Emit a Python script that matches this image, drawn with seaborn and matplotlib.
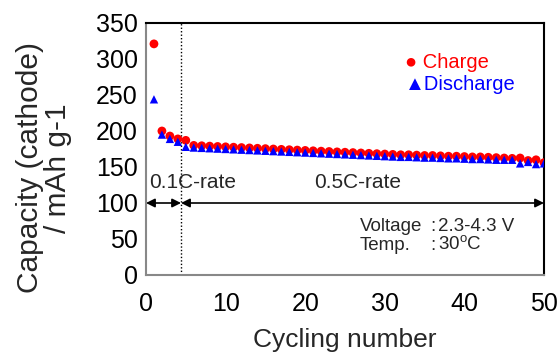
import matplotlib
matplotlib.use("Agg")
import matplotlib.pyplot as plt
import seaborn as sns
import pandas as pd
from matplotlib.ticker import MultipleLocator

cycles = list(range(1, 51))
charge = [321, 200, 193, 189, 187, 180, 179.5, 179, 178.5, 178,
          177.5, 177, 176.5, 176, 175.5, 175, 174.5, 174, 173.5, 173,
          172.5, 172, 171.5, 171, 170.5, 170, 169.5, 169, 168.5, 168,
          167.5, 167, 167, 166.5, 166, 166, 165.5, 165, 165, 164.5,
          164, 164, 163.5, 163, 162.5, 162, 162.5, 159, 160, 156]
discharge = [244, 195, 189, 185, 178, 177, 176.5, 176, 175.5, 175,
             174.5, 174, 173.5, 173, 172.5, 172, 171.5, 171, 170.5, 170,
             169.5, 169, 168.5, 168, 167.5, 167, 166.5, 166, 165.5, 165,
             164.5, 164, 164, 163.5, 163, 163, 162.5, 162, 162, 161.5,
             161, 161, 160.5, 160, 160, 160, 155, 157, 154, 155]

sns.set_theme(style="white")
plt.rcParams['font.family'] = ['Liberation Sans', 'DejaVu Sans']
plt.rcParams['mathtext.fontset'] = 'custom'
plt.rcParams['mathtext.rm'] = 'Liberation Sans'

df = pd.DataFrame({"cycle": cycles, "Charge": charge, "Discharge": discharge})

fig = plt.figure(figsize=(5.6, 3.52), dpi=100)
ax = fig.add_axes([146/560, 1-275/352, 398/560, 252/352])

sns.scatterplot(data=df, x="cycle", y="Charge", ax=ax, color="#ff0000", marker="o",
                s=40, edgecolor="none", zorder=3, legend=False)
sns.scatterplot(data=df, x="cycle", y="Discharge", ax=ax, color="#0000ff", marker="^",
                s=36, edgecolor="none", zorder=4, legend=False)

ax.set_xlim(0, 50)
ax.set_ylim(0, 350)
ax.xaxis.set_major_locator(MultipleLocator(10))
ax.xaxis.set_minor_locator(MultipleLocator(2))
ax.yaxis.set_major_locator(MultipleLocator(50))
ax.yaxis.set_minor_locator(MultipleLocator(10))
ax.tick_params(axis='both', which='both', direction='in', colors='#888888',
               labelcolor='black', labelsize=18, width=1)
ax.tick_params(which='major', length=5)
ax.tick_params(which='minor', length=4)
ax.tick_params(axis='x', pad=12)
ax.tick_params(axis='y', pad=6)

for s in ['left', 'bottom']:
    ax.spines[s].set_color('#888888')
    ax.spines[s].set_linewidth(1.5)
for s in ['top', 'right']:
    ax.spines[s].set_color('black')
    ax.spines[s].set_linewidth(1.5)

ax.set_xlabel("Cycling number", fontsize=19, labelpad=9)
ax.set_ylabel("Capacity (cathode)\n/ mAh g-1", fontsize=21.5, linespacing=1.0)
ax.yaxis.set_label_coords(-0.185, 0.425)

ax.axvline(4.4, color='black', linestyle=(0, (1, 1.5)), linewidth=1, zorder=1)

ax.annotate("", xy=(0, 100), xytext=(4.4, 100),
            arrowprops=dict(arrowstyle='<|-|>', color='black', lw=1.2,
                            shrinkA=0, shrinkB=0, mutation_scale=13))
ax.annotate("", xy=(4.4, 100), xytext=(50, 100),
            arrowprops=dict(arrowstyle='<|-|>', color='black', lw=1.2,
                            shrinkA=0, shrinkB=0, mutation_scale=13))

ax.text(0.35, 128, "0.1C-rate", fontsize=15, va='center', ha='left')
ax.text(26.6, 128, "0.5C-rate", fontsize=15, va='center', ha='center')

ax.text(26.9, 67, "Voltage", fontsize=13.5, va='center', ha='left')
ax.text(35.7, 67, ":", fontsize=13.5, va='center', ha='left')
ax.text(36.7, 67, "2.3-4.3 V", fontsize=13.5, va='center', ha='left')
ax.text(26.9, 41.5, "Temp.", fontsize=13.5, va='center', ha='left')
ax.text(35.7, 41.5, ":", fontsize=13.5, va='center', ha='left')
ax.text(36.7, 41.5, r"30$^\mathregular{o}$C", fontsize=13.5, va='center', ha='left')

# legend drawn as coloured symbol text
ax.text(32.5, 295, "\u25cf Charge", fontsize=14.5, color="#ff0000", va='center', ha='left')
ax.text(32.5, 265, "\u25b2Discharge", fontsize=14.5, color="#0000ff", va='center', ha='left')

fig.savefig("out.png", dpi=100)
